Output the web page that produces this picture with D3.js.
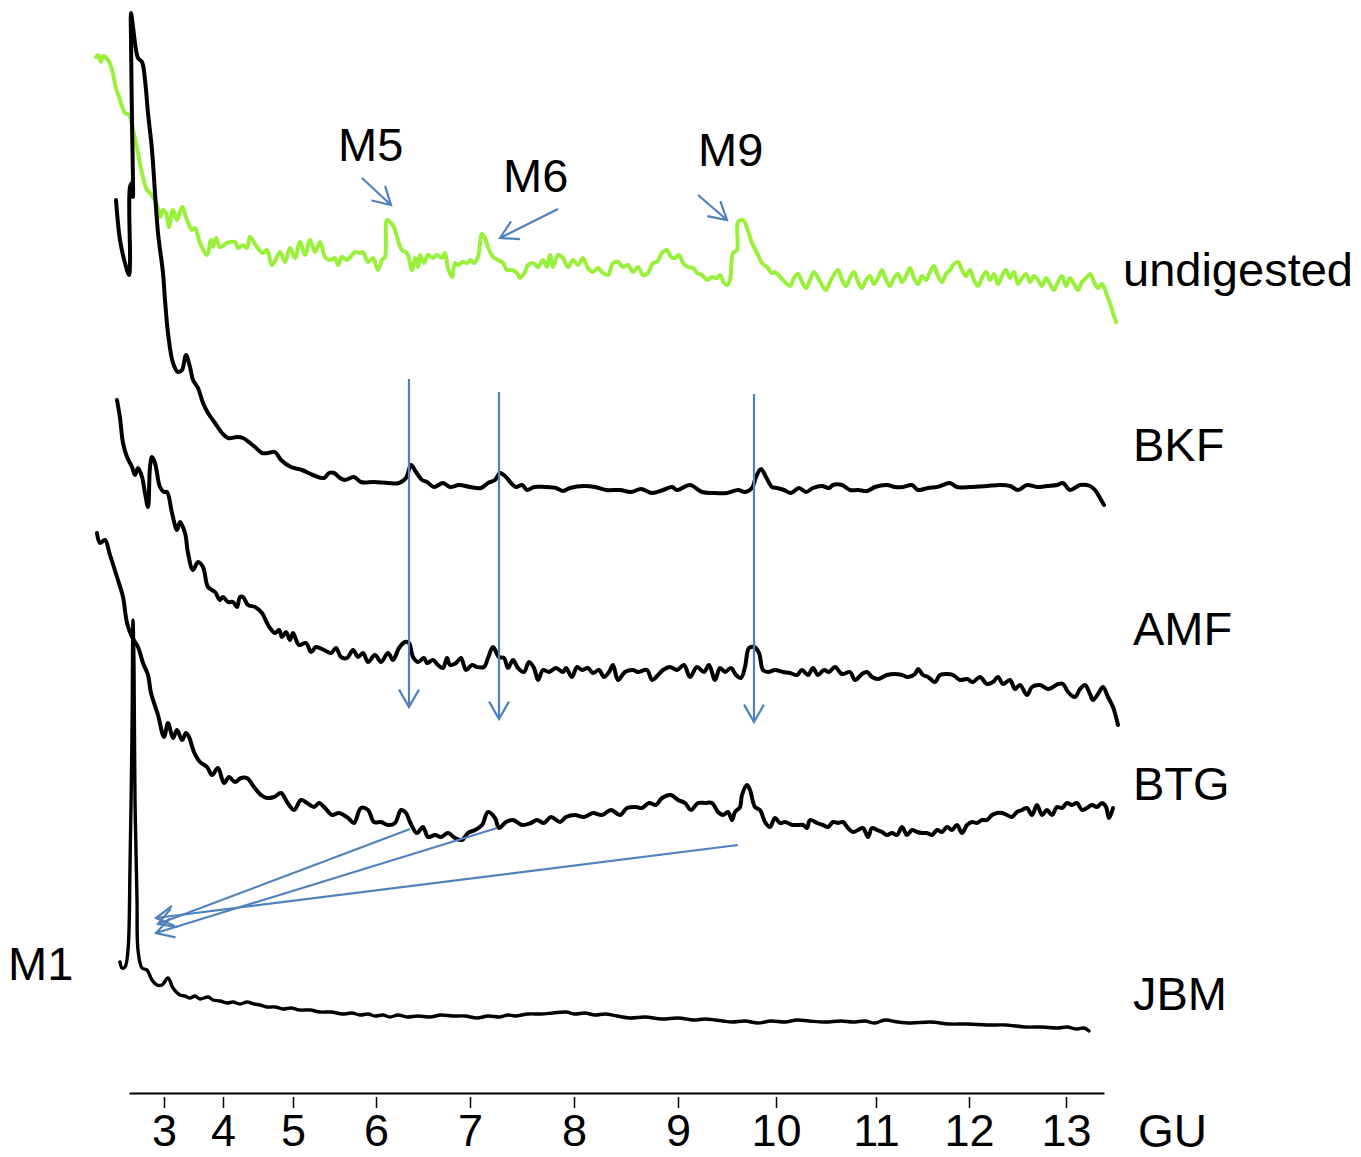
<!DOCTYPE html>
<html><head><meta charset="utf-8">
<script src="https://cdn.jsdelivr.net/npm/d3@7"></script>
<style>body{margin:0;background:#fff}svg text{font-family:"Liberation Sans",Arial,sans-serif}</style>
</head><body><svg id="c" width="1361" height="1157"></svg>
<script>
// GU ladder: glucose-unit ticks placed at their retention (scan) positions
const guTicks = [3,4,5,6,7,8,9,10,11,12,13];
const guScans = [84,143,213,296,390,494,598,696,796,889,986];

// traces: [scan, relative signal]
const undigested = [[16,243],[18,245],[21,238],[23,244],[28,240],[32,230],[36,212],[39,203],[45,187],[49,185],[53,170],[58,147],[62,127],[67,110],[72,105],[77,95],[80,83],[83,90],[86,87],[89,73],[93,90],[97,80],[102,93],[107,80],[112,70],[115,72],[120,57],[127,45],[131,60],[133,53],[136,62],[140,53],[147,57],[155,58],[158,52],[163,55],[167,52],[170,63],[177,53],[183,47],[187,50],[192,35],[197,43],[200,48],[205,38],[210,52],[215,42],[220,58],[225,45],[230,60],[235,48],[240,58],[245,43],[250,40],[255,42],[258,35],[262,43],[267,40],[272,45],[275,48],[280,47],[283,48],[288,38],[293,42],[298,30],[302,40],[305,43],[307,80],[311,77],[314,73],[317,63],[322,50],[327,47],[332,30],[335,42],[338,33],[340,45],[344,37],[348,45],[353,42],[357,45],[362,42],[365,47],[368,32],[372,23],[375,37],[378,35],[383,38],[387,37],[391,40],[394,37],[398,43],[402,66],[405,62],[408,53],[413,43],[418,40],[423,37],[427,30],[432,30],[437,27],[440,22],[445,28],[448,35],[453,37],[458,33],[463,40],[467,33],[470,45],[473,33],[478,45],[483,42],[488,33],[493,40],[498,35],[503,42],[508,32],[513,28],[518,32],[523,27],[528,25],[533,37],[538,38],[543,33],[548,35],[553,28],[558,33],[563,25],[568,27],[573,37],[577,38],[582,47],[587,50],[591,43],[595,42],[599,45],[603,37],[608,33],[613,32],[617,27],[622,25],[627,20],[632,23],[637,22],[640,25],[644,17],[647,15],[650,20],[653,47],[657,50],[658,78],[663,80],[667,72],[672,57],[677,47],[682,37],[687,33],[692,27],[695,28],[700,23],[705,18],[710,14],[714,22],[718,26],[722,18],[726,12],[730,20],[734,28],[738,22],[742,15],[746,10],[750,18],[754,25],[758,30],[762,20],[766,14],[770,22],[774,28],[778,18],[782,12],[786,20],[790,24],[794,16],[798,22],[802,30],[806,20],[810,14],[814,22],[818,26],[822,18],[826,24],[830,32],[834,22],[838,16],[842,24],[846,20],[850,28],[854,34],[858,24],[862,18],[866,26],[870,30],[874,36],[878,38],[882,30],[886,24],[890,30],[894,20],[898,14],[902,22],[906,28],[910,20],[914,26],[918,16],[922,24],[926,30],[930,22],[934,28],[938,16],[942,22],[946,26],[950,18],[954,24],[958,20],[962,14],[966,22],[970,16],[974,10],[978,18],[982,24],[986,14],[990,22],[994,16],[998,10],[1002,18],[1006,22],[1010,26],[1014,18],[1018,12],[1022,16],[1025,10],[1028,2],[1032,-10],[1036,-22]];

const bkf = [[36,300],[40,260],[45,237],[49,225],[50,238],[50,313],[52,317],[53,303],[52,380],[51,460],[51,487],[53,473],[56,450],[58,442],[62,438],[65,420],[68,387],[72,350],[75,307],[78,267],[83,227],[85,200],[88,167],[93,137],[98,128],[102,130],[106,145],[110,133],[113,120],[118,112],[123,97],[128,87],[135,77],[142,67],[148,62],[157,63],[163,62],[170,57],[175,53],[182,47],[188,47],[195,48],[201,40],[211,33],[222,30],[233,25],[244,22],[249,27],[254,27],[260,22],[265,20],[274,23],[281,18],[294,18],[308,17],[319,17],[326,22],[331,35],[336,28],[342,20],[347,18],[354,13],[363,17],[370,13],[379,15],[390,13],[401,12],[408,17],[415,20],[420,27],[426,23],[431,17],[436,13],[442,15],[447,10],[454,13],[465,13],[476,12],[483,9],[490,12],[504,14],[515,13],[526,10],[540,10],[551,8],[561,11],[572,7],[583,10],[592,13],[597,10],[610,15],[622,8],[633,7],[647,7],[658,10],[665,8],[672,12],[676,23],[681,31],[686,23],[692,13],[697,12],[704,10],[711,7],[719,12],[726,8],[733,12],[742,14],[749,12],[753,15],[762,15],[770,10],[778,10],[787,9],[795,13],[807,15],[815,13],[823,13],[832,15],[838,10],[848,12],[857,13],[863,15],[870,17],[877,13],[890,13],[907,14],[920,15],[930,14],[938,10],[947,15],[957,13],[967,14],[977,15],[983,17],[990,10],[1000,15],[1010,14],[1015,10],[1020,2],[1024,-5]];

const amf = [[37,320],[40,302],[43,277],[47,263],[52,253],[55,245],[58,252],[62,243],[65,227],[68,213],[70,253],[72,263],[75,257],[80,233],[84,228],[87,228],[92,207],[97,190],[100,198],[105,187],[108,167],[113,150],[118,158],[123,153],[128,133],[135,128],[140,120],[143,123],[148,118],[153,118],[157,113],[160,123],[163,123],[168,115],[175,113],[182,107],[187,97],[190,92],[195,87],[199,90],[202,83],[206,88],[210,80],[213,87],[219,75],[226,77],[231,68],[236,73],[244,70],[251,67],[256,72],[261,63],[267,62],[273,70],[278,63],[283,67],[288,58],[295,65],[301,58],[308,67],[313,60],[319,72],[325,78],[329,77],[333,63],[338,58],[344,62],[347,57],[353,60],[358,55],[363,52],[367,62],[370,55],[376,57],[381,62],[386,50],[392,55],[397,53],[404,53],[408,62],[413,73],[419,63],[424,62],[428,52],[433,60],[438,52],[444,48],[449,58],[454,52],[458,40],[463,50],[469,48],[476,52],[483,48],[486,52],[492,43],[497,53],[502,50],[508,52],[513,47],[519,50],[524,43],[529,48],[533,55],[538,40],[545,48],[553,50],[558,48],[567,50],[572,40],[578,45],[583,50],[590,53],[597,50],[604,55],[610,43],[617,53],[624,48],[629,55],[635,40],[640,52],[645,48],[651,52],[656,45],[661,42],[665,53],[669,72],[674,73],[679,67],[683,50],[688,48],[695,50],[703,48],[710,47],[717,45],[722,50],[728,45],[733,52],[738,45],[744,50],[749,48],[755,53],[762,46],[770,48],[775,40],[782,46],[787,48],[792,43],[798,41],[807,45],[815,46],[822,45],[828,43],[835,46],[838,51],[843,45],[848,43],[855,38],[860,45],[867,46],[873,45],[880,40],[887,41],[893,38],[900,43],[907,36],[913,38],[918,43],[923,36],[930,40],[935,31],[940,35],[947,25],[952,33],[960,35],[968,31],[973,33],[978,36],[983,36],[988,28],[995,23],[1000,31],[1005,35],[1010,26],[1013,20],[1018,26],[1023,33],[1028,23],[1033,13],[1038,-5]];

const btg = [[17,327],[20,317],[25,320],[30,305],[37,283],[43,263],[47,237],[52,223],[58,213],[63,197],[68,185],[71,167],[78,145],[84,123],[88,137],[93,122],[97,130],[102,120],[106,127],[109,123],[114,108],[120,98],[127,93],[132,85],[138,92],[144,77],[149,83],[155,78],[161,82],[167,82],[174,73],[181,65],[187,62],[194,63],[201,67],[207,58],[214,50],[221,60],[227,57],[234,53],[239,57],[245,52],[252,45],[259,47],[268,42],[274,37],[281,52],[288,50],[294,38],[301,38],[308,35],[315,37],[321,50],[326,47],[330,38],[337,27],[343,33],[348,23],[355,25],[361,23],[368,27],[375,22],[382,20],[388,27],[395,30],[402,35],[408,48],[415,42],[419,32],[426,38],[433,40],[442,35],[451,37],[457,40],[464,37],[471,43],[480,38],[486,43],[495,45],[504,43],[513,47],[522,45],[531,50],[540,45],[547,52],[556,53],[562,52],[569,57],[576,55],[582,62],[591,65],[598,60],[605,57],[611,50],[618,57],[625,57],[632,57],[638,48],[643,45],[648,48],[652,40],[655,48],[660,53],[662,65],[667,75],[670,70],[675,53],[680,50],[685,38],[690,33],[695,42],[700,37],[705,38],[713,35],[723,35],[727,32],[730,40],[737,37],[743,35],[748,33],[753,38],[758,37],[763,38],[768,32],[773,28],[778,30],[783,32],[788,23],[792,32],[797,30],[802,28],[807,25],[812,27],[817,25],[822,33],[827,25],[832,30],[837,28],[842,27],[847,27],[852,25],[857,30],[862,28],[867,33],[872,30],[877,35],[882,27],[887,35],[892,38],[897,37],[902,40],[907,40],[912,45],[917,47],[922,47],[927,45],[932,43],[937,48],[942,50],[947,52],[952,45],[957,55],[962,45],[967,50],[972,45],[977,53],[982,52],[987,57],[992,55],[997,57],[1002,50],[1007,52],[1012,55],[1017,53],[1022,57],[1026,53],[1029,42],[1033,52]];

const jbm = [[40,78],[42,72],[45,73],[48,90],[50,173],[52,307],[53,420],[54,373],[55,240],[57,140],[58,90],[62,72],[67,70],[72,60],[77,55],[82,55],[88,62],[93,52],[100,45],[105,44],[110,42],[115,44],[120,41],[128,43],[133,40],[140,39],[147,37],[153,38],[160,36],[167,38],[174,36],[180,35],[187,33],[195,33],[203,31],[211,32],[219,30],[230,30],[240,28],[251,28],[263,26],[272,27],[280,25],[288,26],[295,24],[303,25],[310,23],[318,25],[327,23],[338,24],[350,23],[361,25],[372,24],[385,24],[397,22],[408,24],[420,23],[428,25],[435,24],[448,26],[461,26],[473,27],[486,28],[495,26],[505,27],[515,25],[525,26],[537,24],[550,22],[565,23],[582,21],[598,22],[614,20],[625,21],[635,20],[643,19],[652,18],[665,19],[678,17],[691,19],[705,18],[717,20],[729,19],[745,18],[761,19],[773,18],[785,19],[795,17],[805,20],[818,18],[831,17],[850,18],[869,16],[888,16],[907,15],[926,15],[946,13],[962,13],[977,12],[987,13],[997,11],[1004,12],[1009,9]];

const traceNames = ["undigested","BKF","AMF","BTG","JBM"];
const traceData = [undigested, bkf, amf, btg, jbm];
const traceColors = ["#99f03a","#000","#000","#000","#000"];

// ---------- drawing ----------
const svg = d3.select("#c");
const x = d3.scaleLinear().domain([49,1024]).range([129,1104]);
const y = d3.scaleLinear().domain([0,1100]).range([1100,0]);
const offsets = [800,600,380,240,60];

const line = d3.line().curve(d3.curveCatmullRom.alpha(0.5));
traceData.forEach((data,i)=>{
  svg.append("path")
    .attr("d", line(data.map(d=>[x(d[0]), y(offsets[i]+d[1])])))
    .attr("fill","none").attr("stroke",traceColors[i])
    .attr("stroke-width",i===4?3.4:4).attr("stroke-linejoin","round").attr("stroke-linecap","round");
});

// axis
const axisG = svg.append("g").attr("transform",`translate(0,${y(7)})`);
axisG.call(d3.axisBottom(x).tickValues(guScans).tickFormat((d,i)=>guTicks[i]).tickSizeOuter(0));
axisG.select(".domain").attr("stroke","#000").attr("stroke-width",2.2);
axisG.selectAll(".tick line").attr("y1",4).attr("y2",15).attr("stroke","#000").attr("stroke-width",1.5);
axisG.selectAll(".tick text").attr("y",21).attr("font-size",45).attr("fill","#000")
  .style("font-family",'"Liberation Sans",Arial,sans-serif');

// annotation arrows [scanFrom, levelFrom, scanTo, levelTo]
const arrows = [[282,922,311,895],[478,891,420,862],[618,905,647,880],
  [329,721,329,393],[419,708,419,381],[674,706,674,378],
  [330,271,78,176],[417,272,76,167],[658,255,76,182]];
const blue = "#4f81bd";
arrows.forEach(a=>{
  const x0=x(a[0]), y0=y(a[1]), x1=x(a[2]), y1=y(a[3]);
  const ang = Math.atan2(y1-y0, x1-x0), L=20, h=0.52;
  const p = d3.path();
  p.moveTo(x0,y0); p.lineTo(x1,y1);
  p.moveTo(x1-L*Math.cos(ang-h), y1-L*Math.sin(ang-h)); p.lineTo(x1,y1);
  p.lineTo(x1-L*Math.cos(ang+h), y1-L*Math.sin(ang+h));
  svg.append("path").attr("d",p.toString()).attr("fill","none").attr("stroke",blue)
    .attr("stroke-width",2.2).attr("stroke-linejoin","miter");
});

// text labels [text, scan, level, size]
const labels = [["undigested",1043,814,47],["BKF",1053,639,47],["AMF",1053,455,47],["BTG",1053,300,47],["JBM",1053,90,47],
  ["M1",-72,120,47],["M5",258,939,47],["M6",423,908,47],["M9",618,934,47],["GU",1058,-47,46]];
labels.forEach(l=>{
  svg.append("text").attr("x",x(l[1])).attr("y",y(l[2])).attr("font-size",l[3]).attr("fill","#000").text(l[0]);
});
</script></body></html>
